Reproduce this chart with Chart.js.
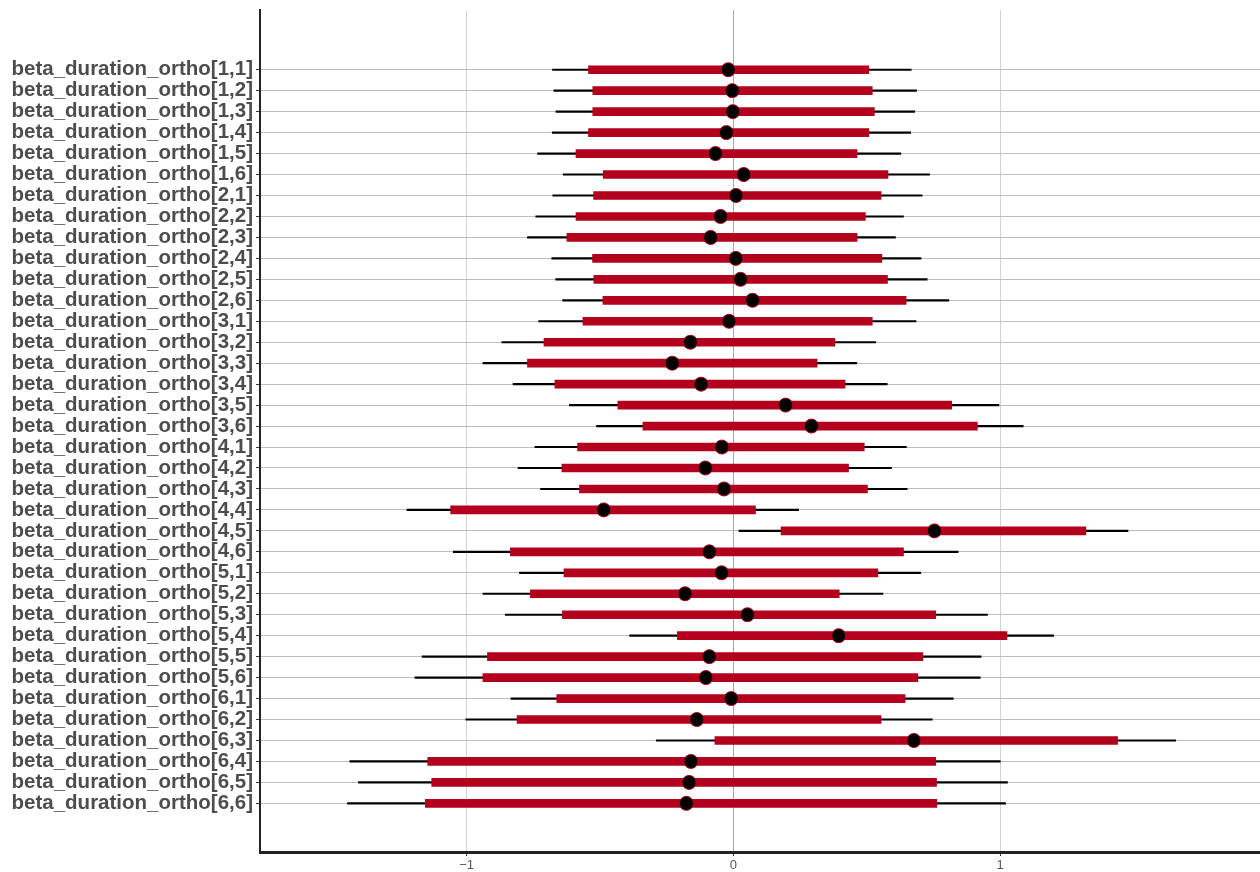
<!DOCTYPE html>
<html>
<head>
<meta charset="utf-8">
<script src="https://cdn.jsdelivr.net/npm/chart.js@4/dist/chart.umd.min.js"></script>
<style>
  html, body { margin: 0; padding: 0; background: #ffffff; }
  #wrap { width: 1260px; height: 872px; }
</style>
</head>
<body>
<div id="wrap"><canvas id="c" width="1260" height="872"></canvas></div>
<script>
// Parameter names, top to bottom
const paramNames = [
  'beta_duration_ortho[1,1]', 'beta_duration_ortho[1,2]', 'beta_duration_ortho[1,3]',
  'beta_duration_ortho[1,4]', 'beta_duration_ortho[1,5]', 'beta_duration_ortho[1,6]',
  'beta_duration_ortho[2,1]', 'beta_duration_ortho[2,2]', 'beta_duration_ortho[2,3]',
  'beta_duration_ortho[2,4]', 'beta_duration_ortho[2,5]', 'beta_duration_ortho[2,6]',
  'beta_duration_ortho[3,1]', 'beta_duration_ortho[3,2]', 'beta_duration_ortho[3,3]',
  'beta_duration_ortho[3,4]', 'beta_duration_ortho[3,5]', 'beta_duration_ortho[3,6]',
  'beta_duration_ortho[4,1]', 'beta_duration_ortho[4,2]', 'beta_duration_ortho[4,3]',
  'beta_duration_ortho[4,4]', 'beta_duration_ortho[4,5]', 'beta_duration_ortho[4,6]',
  'beta_duration_ortho[5,1]', 'beta_duration_ortho[5,2]', 'beta_duration_ortho[5,3]',
  'beta_duration_ortho[5,4]', 'beta_duration_ortho[5,5]', 'beta_duration_ortho[5,6]',
  'beta_duration_ortho[6,1]', 'beta_duration_ortho[6,2]', 'beta_duration_ortho[6,3]',
  'beta_duration_ortho[6,4]', 'beta_duration_ortho[6,5]', 'beta_duration_ortho[6,6]'
];

// Outer interval (thin line)
const outerLow = [
  -0.678, -0.673, -0.665, -0.679, -0.734, -0.638,
  -0.677, -0.741, -0.772, -0.681, -0.666, -0.640,
  -0.730, -0.868, -0.939, -0.826, -0.615, -0.513,
  -0.744, -0.807, -0.723, -1.224,  0.021, -1.050,
  -0.802, -0.939, -0.855, -0.389, -1.167, -1.194,
  -0.834, -1.003, -0.289, -1.438, -1.406, -1.447
];
const outerHigh = [
  0.667, 0.687, 0.680, 0.665, 0.628, 0.736,
  0.708, 0.638, 0.608, 0.704, 0.727, 0.808,
  0.685, 0.534, 0.463, 0.577, 0.996, 1.087,
  0.649, 0.593, 0.652, 0.245, 1.480, 0.843,
  0.703, 0.561, 0.953, 1.201, 0.929, 0.926,
  0.825, 0.746, 1.659, 1.001, 1.028, 1.021
];

// Inner interval (thick bar)
const innerLow = [
  -0.543, -0.527, -0.527, -0.543, -0.590, -0.488,
  -0.524, -0.590, -0.624, -0.528, -0.523, -0.489,
  -0.564, -0.710, -0.772, -0.669, -0.433, -0.339,
  -0.584, -0.643, -0.577, -1.060,  0.179, -0.836,
  -0.635, -0.761, -0.641, -0.210, -0.922, -0.939,
  -0.662, -0.811, -0.069, -1.146, -1.131, -1.155
];
const innerHigh = [
  0.508, 0.521, 0.529, 0.508, 0.464, 0.580,
  0.554, 0.495, 0.464, 0.557, 0.578, 0.648,
  0.521, 0.381, 0.314, 0.419, 0.819, 0.915,
  0.491, 0.432, 0.503, 0.083, 1.322, 0.638,
  0.542, 0.397, 0.759, 1.026, 0.711, 0.692,
  0.644, 0.554, 1.441, 0.759, 0.762, 0.763
];

// Point estimates
const medians = [
  -0.019, -0.004, -0.002, -0.026, -0.067,  0.039,
   0.010, -0.048, -0.085,  0.009,  0.027,  0.072,
  -0.016, -0.161, -0.229, -0.121,  0.196,  0.293,
  -0.043, -0.105, -0.035, -0.486,  0.754, -0.090,
  -0.044, -0.181,  0.053,  0.395, -0.090, -0.103,
  -0.008, -0.137,  0.677, -0.159, -0.166, -0.176
];

const xTickValues = [-1, 0, 1];
const xTickLabels = ['\u22121', '0', '1'];

const RED = '#b2001d';

const outerData = paramNames.map((_, i) => ({ y: i, x: [outerLow[i], outerHigh[i]] }));
const innerData = paramNames.map((_, i) => ({ y: i, x: [innerLow[i], innerHigh[i]] }));
const pointData = paramNames.map((_, i) => ({ x: medians[i], y: i }));

// Drop the label-overhang padding so the plot area spans the full canvas
const noPad = (s) => { s.paddingLeft = 0; s.paddingRight = 0; s.paddingTop = 0; s.paddingBottom = 0; };

new Chart(document.getElementById('c'), {
  type: 'bar',
  data: {
    datasets: [
      {
        type: 'scatter',
        data: pointData,
        pointRadius: 7,
        pointBackgroundColor: '#000000',
        pointBorderColor: RED,
        pointBorderWidth: 1,
        order: 0
      },
      {
        indexAxis: 'y',
        data: innerData,
        backgroundColor: RED,
        borderWidth: 0,
        barThickness: 8,
        grouped: false,
        order: 1
      },
      {
        indexAxis: 'y',
        data: outerData,
        backgroundColor: '#000000',
        borderWidth: 0,
        barThickness: 1.5,
        grouped: false,
        order: 2
      }
    ]
  },
  options: {
    responsive: false,
    animation: false,
    events: [],
    layout: { autoPadding: false, padding: { top: 10, right: 0, bottom: 0, left: 0 } },
    plugins: { legend: { display: false }, tooltip: { enabled: false } },
    scales: {
      x: {
        type: 'linear',
        min: -1.775,
        max: 1.975,
        offset: false,
        afterBuildTicks: (s) => { s.ticks = xTickValues.map(v => ({ value: v })); },
        afterFit: (s) => { s.height = 20; noPad(s); },
        border: { display: true, color: '#222222', width: 3 },
        grid: {
          offset: false,
          color: (ctx) => (ctx.tick && ctx.tick.value === 0 ? '#a6a6a6' : '#d2d2d2'),
          lineWidth: 1,
          tickLength: 4,
          tickColor: '#333333',
          tickWidth: 1
        },
        ticks: {
          autoSkip: false,
          maxRotation: 0,
          padding: 2,
          color: '#555555',
          font: { family: 'Liberation Sans', size: 13 },
          callback: (v) => xTickLabels[xTickValues.indexOf(v)]
        }
      },
      y: {
        type: 'linear',
        reverse: true,
        min: -2.85,
        max: 37.32,
        offset: false,
        afterBuildTicks: (s) => { s.ticks = paramNames.map((_, i) => ({ value: i })); },
        afterFit: (s) => { s.width = 260; noPad(s); },
        border: { display: true, color: '#222222', width: 2 },
        grid: {
          offset: false,
          color: '#bdbdbd',
          lineWidth: 1,
          tickLength: 4,
          tickColor: '#333333',
          tickWidth: 1
        },
        ticks: {
          autoSkip: false,
          padding: 3,
          color: '#4d4d4d',
          font: { family: 'Liberation Sans', size: 20.5, weight: 'bold' },
          callback: (v) => paramNames[v]
        }
      }
    }
  }
});
</script>
</body>
</html>
